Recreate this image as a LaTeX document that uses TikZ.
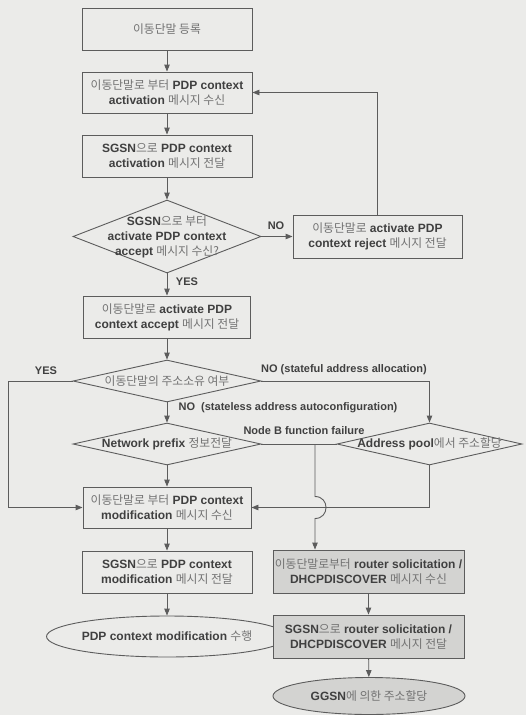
\documentclass[tikz,border=0pt]{standalone}
\usepackage{fontspec}
\setmainfont{Liberation Sans}
\newfontfamily\krfont{Noto Sans CJK KR}
\usetikzlibrary{shapes.geometric,arrows.meta}
\definecolor{paper}{HTML}{EBEBE9}
\definecolor{ink}{HTML}{404040}
\definecolor{hangul}{HTML}{727272}
\definecolor{edge}{HTML}{5C5C5C}
\definecolor{shade}{HTML}{D3D3D1}
% Hangul runs: lighter weight and colour than the Latin words
\newcommand{\K}[1]{{\krfont\mdseries\fontsize{11.8}{15}\selectfont\color{hangul}#1}}
\begin{document}
\begin{tikzpicture}[x=1pt,y=-1pt,
  every node/.style={text=ink, font=\fontsize{12}{15}\selectfont\bfseries},
  flowbox/.style={draw=edge, line width=0.9pt, rectangle, minimum width=170pt,
    minimum height=42pt, align=center, inner sep=0pt},
  graybox/.style={flowbox, fill=shade, minimum width=191pt, minimum height=43pt},
  decision/.style={draw=edge, line width=0.9pt, diamond, inner sep=0pt,
    minimum width=188pt, minimum height=42pt},
  terminal/.style={draw=edge, line width=0.9pt, ellipse, inner sep=0pt, align=center},
  tag/.style={font=\fontsize{11}{13}\selectfont\bfseries},
  flow/.style={draw=edge, line width=0.9pt, -{Triangle[length=7pt,width=5.5pt]}},
  link/.style={draw=edge, line width=0.9pt}]

\fill[paper] (0,0) rectangle (526,715);
\useasboundingbox (0,0) rectangle (526,715);

% left column
\node[flowbox] (reg) at (167,29) {\K{이동단말 등록}};
\node[flowbox, minimum height=41pt] (rx) at (167,92.5)
  {\K{이동단말로 부터} PDP context\\activation \K{메시지 수신}};
\node[flowbox] (fw) at (167,156)
  {SGSN\K{으로} PDP context\\activation \K{메시지 전달}};
\node[decision, minimum height=73pt] (acc) at (167,236.5) {};
\node[align=center] (acct) at (acc.center)
  {SGSN\K{으로 부터}\\activate PDP context\\accept \K{메시지 수신?}};
\node[flowbox, minimum width=169pt, minimum height=43pt] (rej) at (377.5,236.5)
  {\K{이동단말로} activate PDP\\context reject \K{메시지 전달}};
\node[flowbox, minimum width=167pt] (ok) at (167,317)
  {\K{이동단말로} activate PDP\\context accept \K{메시지 전달}};
\node[decision] (own) at (167,381) {};
\node (ownt) at (own.center) {\K{이동단말의 주소소유 여부}};
\node[decision] (pre) at (167,444) {};
\node (pret) at (pre.center) {Network prefix \K{정보전달}};
\node[decision, minimum width=185pt] (pool) at (429.5,444) {};
\node (poolt) at (pool.center) {Address pool\K{에서 주소할당}};
\node[flowbox, minimum width=168pt, minimum height=41pt] (mod) at (167,507.5)
  {\K{이동단말로 부터} PDP context\\modification \K{메시지 수신}};
\node[flowbox] (modfw) at (167,572)
  {SGSN\K{으로} PDP context\\modification \K{메시지 전달}};
\node[terminal, minimum width=191pt, minimum height=41pt] (done) at (167,636.5)
  {PDP context modification \K{수행}};

% right column (shaded path)
\node[graybox] (sol) at (368.5,571.5)
  {\K{이동단말로부터} router solicitation /\\DHCPDISCOVER \K{메시지 수신}};
\node[graybox] (solfw) at (368.5,636.5)
  {SGSN\K{으로} router solicitation /\\DHCPDISCOVER \K{메시지 전달}};
\node[terminal, fill=shade, minimum width=192pt, minimum height=37pt] (ggsn) at (369,696)
  {GGSN\K{에 의한 주소할당}};

% turning points
\coordinate (yesturn) at (8,381);
\coordinate (fail) at (315,444);
\coordinate (hopin) at (315,496.5);
\coordinate (hopout) at (315,518.5);

% connectors
\draw[flow] (reg) -- (rx);
\draw[flow] (rx) -- (fw);
\draw[flow] (fw) -- (acc.north);
\draw[flow] (acc.east) -- (rej.west);
\draw[flow] (rej.north) |- (rx.east);
\draw[flow] (acc.south) -- (ok.north);
\draw[flow] (ok) -- (own.north);
\draw[flow] (own.west) -- (yesturn) |- (mod.west);
\draw[flow] (own.east) -| (pool.north);
\draw[flow] (own.south) -- (pre.north);
\draw[link] (pre.east) -- (pool.west);
\draw[flow] (fail) -- (hopin) .. controls (329.7,496.5) and (329.7,518.5) .. (hopout)
  -- (fail |- sol.north);
\draw[flow] (pre.south) -- (mod.north);
\draw[flow] (pool.south) |- (mod.east);
\draw[flow] (mod) -- (modfw);
\draw[flow] (modfw) -- (done);
\draw[flow] (sol) -- (solfw);
\draw[flow] (solfw) -- (ggsn);

% branch labels
\node[tag] (lno1) at (276,226) {NO};
\node[tag] (lyes1) at (187,282) {YES};
\node[tag] (lyes2) at (46,371) {YES};
\node[tag] (lno2) at (344,370) {NO (stateful address allocation)};
\node[tag] (lno3) at (288,408) {NO\ \ (stateless address autoconfiguration)};
\node[tag] (lfail) at (304,431) {Node B function failure};
\end{tikzpicture}
\end{document}
